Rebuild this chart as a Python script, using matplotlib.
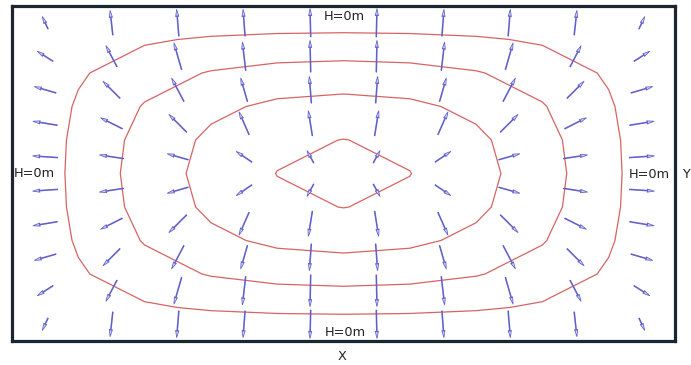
import numpy as np
import matplotlib
matplotlib.use("Agg")
import matplotlib.pyplot as plt

# Hydraulic head (m) at the 11 x 11 grid nodes, H = 0 on every boundary
head = np.array([
    [0, 0.000, 0.000, 0.000, 0.000, 0.000, 0.000, 0.000, 0.000, 0.000, 0],
    [0, 1.281, 2.063, 2.540, 2.800, 2.883, 2.800, 2.540, 2.063, 1.281, 0],
    [0, 2.063, 3.430, 4.296, 4.777, 4.931, 4.777, 4.296, 3.430, 2.063, 0],
    [0, 2.540, 4.296, 5.439, 6.081, 6.288, 6.081, 5.439, 4.296, 2.540, 0],
    [0, 2.800, 4.777, 6.081, 6.821, 7.060, 6.821, 6.081, 4.777, 2.800, 0],
    [0, 2.883, 4.931, 6.288, 7.060, 7.310, 7.060, 6.288, 4.931, 2.883, 0],
    [0, 2.800, 4.777, 6.081, 6.821, 7.060, 6.821, 6.081, 4.777, 2.800, 0],
    [0, 2.540, 4.296, 5.439, 6.081, 6.288, 6.081, 5.439, 4.296, 2.540, 0],
    [0, 2.063, 3.430, 4.296, 4.777, 4.931, 4.777, 4.296, 3.430, 2.063, 0],
    [0, 1.281, 2.063, 2.540, 2.800, 2.883, 2.800, 2.540, 2.063, 1.281, 0],
    [0, 0.000, 0.000, 0.000, 0.000, 0.000, 0.000, 0.000, 0.000, 0.000, 0],
])
head_levels = [2.30, 4.18, 5.78, 7.04]

# Flow vectors at the 10 x 10 cell centres (top row first), x right / y up
flow_u = np.array([
    [-5.7, -2.7, -2.2, -2.0, -0.7, 0.7, 2.0, 2.2, 2.7, 5.7],
    [-15.7, -11.0, -7.7, -3.3, -0.7, 0.7, 3.3, 7.7, 11.0, 15.7],
    [-21.7, -17.0, -12.3, -6.7, -2.0, 2.0, 6.7, 12.3, 17.0, 21.7],
    [-24.3, -21.7, -17.7, -10.0, -4.0, 4.0, 10.0, 17.7, 21.7, 24.3],
    [-25.0, -24.0, -21.0, -15.7, -6.7, 6.7, 15.7, 21.0, 24.0, 25.0],
    [-25.0, -24.0, -21.0, -15.7, -6.7, 6.7, 15.7, 21.0, 24.0, 25.0],
    [-24.3, -21.7, -17.7, -10.0, -4.0, 4.0, 10.0, 17.7, 21.7, 24.3],
    [-21.7, -17.0, -12.3, -6.7, -2.0, 2.0, 6.7, 12.3, 17.0, 21.7],
    [-15.7, -11.0, -7.7, -3.3, -0.7, 0.7, 3.3, 7.7, 11.0, 15.7],
    [-5.7, -2.7, -2.2, -2.0, -0.7, 0.7, 2.0, 2.2, 2.7, 5.7],
])
flow_v = np.array([
    [12.3, 24.7, 26.7, 26.7, 28.3, 28.3, 26.7, 26.7, 24.7, 12.3],
    [10.0, 21.0, 26.7, 28.3, 31.7, 31.7, 28.3, 26.7, 21.0, 10.0],
    [6.3, 17.0, 23.3, 23.3, 26.7, 26.7, 23.3, 23.3, 17.0, 6.3],
    [4.0, 11.0, 17.7, 22.7, 25.0, 25.0, 22.7, 17.7, 11.0, 4.0],
    [1.7, 3.7, 6.0, 10.7, 12.3, 12.3, 10.7, 6.0, 3.7, 1.7],
    [-1.7, -3.7, -6.0, -10.7, -12.3, -12.3, -10.7, -6.0, -3.7, -1.7],
    [-4.0, -11.0, -17.7, -22.7, -25.0, -25.0, -22.7, -17.7, -11.0, -4.0],
    [-6.3, -17.0, -23.3, -23.3, -26.7, -26.7, -23.3, -23.3, -17.0, -6.3],
    [-10.0, -21.0, -26.7, -28.3, -31.7, -31.7, -28.3, -26.7, -21.0, -10.0],
    [-12.3, -24.7, -26.7, -26.7, -28.3, -28.3, -26.7, -26.7, -24.7, -12.3],
])

boundary_label = "H=0m"

fig = plt.figure(figsize=(6.91, 3.65), dpi=100)
ax = fig.add_axes([12 / 691, 1 - 341 / 365, 663 / 691, 335 / 365])

nodes = np.arange(head.shape[0])
ax.contour(nodes, nodes[::-1], head, levels=head_levels,
           colors="#d66464", linewidths=0.9, zorder=2)

centres = np.arange(flow_u.shape[0]) + 0.5
cx, cy = np.meshgrid(centres, centres[::-1])
ax.quiver(cx, cy, flow_u, flow_v, angles="uv", scale_units="dots", scale=1,
          pivot="middle", units="dots", width=0.8, headwidth=4.0,
          headlength=9.0, headaxislength=8.0, facecolor="#d2d2f4",
          edgecolor="#5c5cc8", linewidth=0.55, zorder=3)

ax.set_xlim(0, 10)
ax.set_ylim(0, 10)
ax.set_xticks([])
ax.set_yticks([])
for sp in ax.spines.values():
    sp.set_color("#1b2631")
    sp.set_linewidth(2.3)

tkw = dict(fontsize=9.3, color="#222222", va="center")
fig.text(344 / 691, 1 - 17 / 365, boundary_label, ha="center", **tkw)
fig.text(345 / 691, 1 - 332 / 365, boundary_label, ha="center", **tkw)
fig.text(14 / 691, 1 - 173.5 / 365, boundary_label, ha="left", **tkw)
fig.text(670 / 691, 1 - 174.5 / 365, boundary_label, ha="right", **tkw)
fig.text(342 / 691, 1 - 356 / 365, "X", ha="center", **tkw)
fig.text(682 / 691, 1 - 174.5 / 365, "Y", ha="left", **tkw)

fig.savefig("out.png", dpi=100)
